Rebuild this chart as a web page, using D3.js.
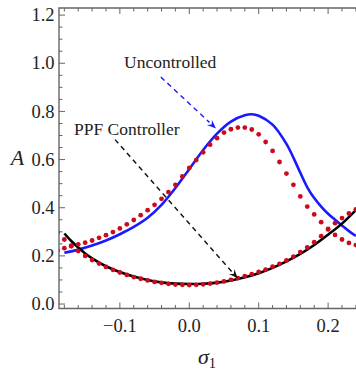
<!DOCTYPE html>
<html>
<head>
<meta charset="utf-8">
<script src="https://cdn.jsdelivr.net/npm/d3@7/dist/d3.min.js"></script>
<style>
  html, body { margin: 0; padding: 0; background: #fff; }
  svg { display: block; }
  text { font-family: "Liberation Serif", "Times New Roman", serif; fill: #222; }
</style>
</head>
<body>
<svg id="chart" width="356" height="371"></svg>
<script>
// Analytical response curves (solid lines)
const uncontrolledSigma = [-0.18, -0.16, -0.14, -0.12, -0.10, -0.08, -0.06, -0.04, -0.02, 0.00, 0.02, 0.04, 0.06, 0.08, 0.09, 0.10, 0.12, 0.14, 0.15, 0.16, 0.17, 0.18, 0.19, 0.20, 0.21, 0.22, 0.23, 0.24];
const uncontrolledA     = [0.213, 0.226, 0.243, 0.264, 0.290, 0.320, 0.358, 0.412, 0.482, 0.560, 0.640, 0.708, 0.758, 0.784, 0.788, 0.782, 0.745, 0.665, 0.608, 0.545, 0.485, 0.440, 0.405, 0.375, 0.350, 0.326, 0.303, 0.283];

const ppfSigma = [-0.18, -0.17, -0.16, -0.15, -0.14, -0.12, -0.10, -0.08, -0.06, -0.04, -0.02, 0.00, 0.02, 0.04, 0.06, 0.08, 0.10, 0.12, 0.14, 0.16, 0.18, 0.20, 0.22, 0.24];
const ppfA     = [0.293, 0.262, 0.235, 0.210, 0.190, 0.157, 0.133, 0.114, 0.100, 0.090, 0.085, 0.083, 0.084, 0.089, 0.098, 0.111, 0.128, 0.150, 0.177, 0.208, 0.245, 0.288, 0.334, 0.390];

// Numerical simulation points (red dots), sigma from -0.19 to 0.24 in steps of 0.01
const numericSigma = [-0.19, -0.18, -0.17, -0.16, -0.15, -0.14, -0.13, -0.12, -0.11, -0.10,
                      -0.09, -0.08, -0.07, -0.06, -0.05, -0.04, -0.03, -0.02, -0.01, 0.00,
                       0.01, 0.02, 0.03, 0.04, 0.05, 0.06, 0.07, 0.08, 0.09, 0.10,
                       0.11, 0.12, 0.13, 0.14, 0.15, 0.16, 0.17, 0.18, 0.19, 0.20,
                       0.21, 0.22, 0.23, 0.24];
const numericUncontrolledA = [0.222, 0.232, 0.240, 0.248, 0.255, 0.264, 0.275, 0.286, 0.299, 0.314,
                              0.331, 0.349, 0.369, 0.390, 0.412, 0.437, 0.465, 0.495, 0.530, 0.565,
                              0.598, 0.630, 0.662, 0.689, 0.712, 0.726, 0.733, 0.733, 0.725, 0.705,
                              0.673, 0.636, 0.590, 0.542, 0.495, 0.447, 0.405, 0.372, 0.340, 0.312,
                              0.287, 0.268, 0.254, 0.245];
const numericPpfA = [0.298, 0.268, 0.243, 0.220, 0.200, 0.183, 0.168, 0.154, 0.142, 0.131,
                     0.121, 0.112, 0.105, 0.098, 0.092, 0.088, 0.084, 0.081, 0.080, 0.079,
                     0.080, 0.082, 0.085, 0.089, 0.094, 0.100, 0.108, 0.116, 0.124, 0.133,
                     0.143, 0.155, 0.167, 0.181, 0.197, 0.216, 0.235, 0.257, 0.282, 0.310,
                     0.336, 0.357, 0.376, 0.393];

// Axis ticks
const xTicks = [-0.1, 0.0, 0.1, 0.2];
const xTickLabels = ["\u22120.1", "0.0", "0.1", "0.2"];
const yTicks = [0.0, 0.2, 0.4, 0.6, 0.8, 1.0, 1.2];
const yTickLabels = ["0.0", "0.2", "0.4", "0.6", "0.8", "1.0", "1.2"];

// Annotations: label text, label anchor and arrow (data coordinates)
const annotations = [
  { text: "Uncontrolled", at: [-0.094, 0.979], from: [-0.041, 0.943], to: [0.0385, 0.729], color: "#1a1aff" },
  { text: "PPF Controller", at: [-0.166, 0.701], from: [-0.107, 0.683], to: [0.0697, 0.107], color: "#111" }
];

const svg = d3.select("#chart");
const plot = { left: 59, right: 356, top: 8, bottom: 308.5 };

const x = d3.scaleLinear().domain([-0.1877, 0.2402]).range([plot.left, plot.right]);
const y = d3.scaleLinear().domain([-0.0185, 1.2295]).range([plot.bottom, plot.top]);

svg.append("defs").append("clipPath").attr("id", "plotClip")
  .append("rect")
  .attr("x", plot.left).attr("y", plot.top)
  .attr("width", plot.right - plot.left).attr("height", plot.bottom - plot.top);

const frameColor = "#666";

// Minor / major tick positions
const xMinor = d3.range(-0.18, 0.2401, 0.02).map(v => +v.toFixed(2));
const yMinor = d3.range(0, 1.2001, 0.05).map(v => +v.toFixed(2));

const ticks = svg.append("g").attr("stroke", frameColor).attr("stroke-width", 1);
function isMajor(v, list) { return list.some(t => Math.abs(t - v) < 1e-6); }

xMinor.forEach(v => {
  const len = isMajor(v, xTicks) ? 6 : 3.5;
  const px = x(v);
  ticks.append("line").attr("x1", px).attr("x2", px).attr("y1", plot.bottom).attr("y2", plot.bottom - len);
  ticks.append("line").attr("x1", px).attr("x2", px).attr("y1", plot.top).attr("y2", plot.top + len);
});
yMinor.forEach(v => {
  const len = isMajor(v, yTicks) ? 6 : 3.5;
  const py = y(v);
  ticks.append("line").attr("x1", plot.left).attr("x2", plot.left + len).attr("y1", py).attr("y2", py);
});

// Frame (left, bottom, top)
svg.append("path")
  .attr("d", `M${plot.right},${plot.top}H${plot.left}V${plot.bottom}H${plot.right}`)
  .attr("fill", "none").attr("stroke", frameColor).attr("stroke-width", 1.4);

// Tick labels
svg.append("g").selectAll("text").data(xTicks).join("text")
  .attr("x", d => x(d)).attr("y", 331.5)
  .attr("text-anchor", "middle").attr("font-size", 18.5)
  .text((d, i) => xTickLabels[i]);

svg.append("g").selectAll("text").data(yTicks).join("text")
  .attr("x", 54.5).attr("y", d => y(d) + 6.2)
  .attr("text-anchor", "end").attr("font-size", 18.5)
  .text((d, i) => yTickLabels[i]);

// Axis titles
svg.append("text").attr("x", 17.5).attr("y", 165).attr("text-anchor", "middle")
  .attr("font-size", 22).attr("font-style", "italic").text("A");

const xt = svg.append("text").attr("x", 198).attr("y", 364).attr("font-size", 22);
xt.append("tspan").attr("font-style", "italic").text("\u03c3");
xt.append("tspan").attr("font-size", 14.5).attr("dy", 4).text("1");

// Curves
const plotArea = svg.append("g").attr("clip-path", "url(#plotClip)");
const line = d3.line().x(d => x(d[0])).y(d => y(d[1])).curve(d3.curveCatmullRom.alpha(0.5));

plotArea.append("path")
  .datum(uncontrolledSigma.map((s, i) => [s, uncontrolledA[i]]))
  .attr("d", line).attr("fill", "none").attr("stroke", "#1a1aff").attr("stroke-width", 2.6);

plotArea.append("path")
  .datum(ppfSigma.map((s, i) => [s, ppfA[i]]))
  .attr("d", line).attr("fill", "none").attr("stroke", "#000").attr("stroke-width", 2.6);

// Numerical points
const dotColor = "#cc0a1c";
plotArea.append("g").selectAll("circle")
  .data(numericSigma.map((s, i) => [s, numericUncontrolledA[i]]))
  .join("circle").attr("cx", d => x(d[0])).attr("cy", d => y(d[1])).attr("r", 2.4).attr("fill", dotColor);
plotArea.append("g").selectAll("circle")
  .data(numericSigma.map((s, i) => [s, numericPpfA[i]]))
  .join("circle").attr("cx", d => x(d[0])).attr("cy", d => y(d[1])).attr("r", 2.4).attr("fill", dotColor);

// Annotation labels with dashed arrows
annotations.forEach(a => {
  svg.append("text").attr("x", x(a.at[0])).attr("y", y(a.at[1]))
    .attr("font-size", 17.5).text(a.text);

  const x0 = x(a.from[0]), y0 = y(a.from[1]);
  const x1 = x(a.to[0]), y1 = y(a.to[1]);
  const ang = Math.atan2(y1 - y0, x1 - x0);
  const headLen = 9, headHalf = 3.6;
  const bx = x1 - headLen * Math.cos(ang), by = y1 - headLen * Math.sin(ang);

  svg.append("line")
    .attr("x1", x0).attr("y1", y0).attr("x2", bx).attr("y2", by)
    .attr("stroke", a.color).attr("stroke-width", 1.4).attr("stroke-dasharray", "5,4");

  const px = -Math.sin(ang), py = Math.cos(ang);
  svg.append("path")
    .attr("d", `M${x1},${y1}L${bx + px * headHalf},${by + py * headHalf}L${bx + 0.35 * headLen * Math.cos(ang)},${by + 0.35 * headLen * Math.sin(ang)}L${bx - px * headHalf},${by - py * headHalf}Z`)
    .attr("fill", a.color);
});
</script>
</body>
</html>
